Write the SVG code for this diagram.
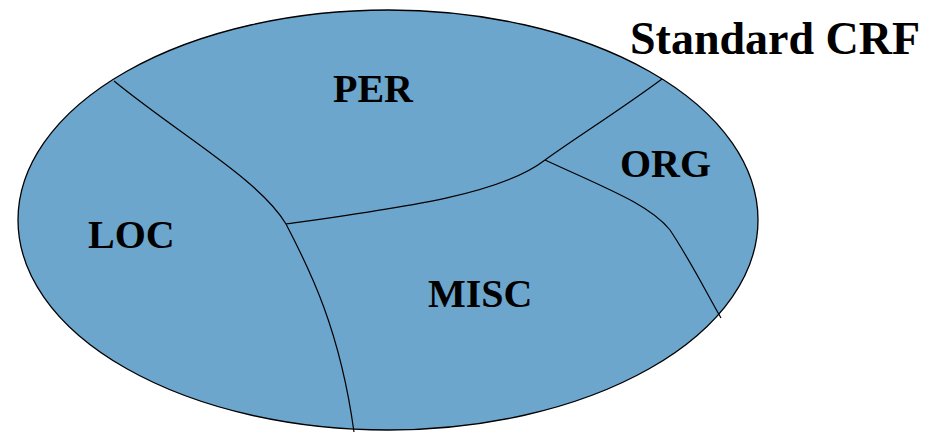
<svg xmlns="http://www.w3.org/2000/svg" width="925" height="432" viewBox="0 0 925 432">
<style>
.lbl{font-family:"Liberation Serif","Times New Roman",serif;font-weight:bold;font-size:40px;fill:#000}
.b{fill:none;stroke:#000;stroke-width:1.2}
</style>
<rect width="925" height="432" fill="#fff"/>
<g id="ellipse"><ellipse cx="388" cy="220" rx="370" ry="210" fill="#6CA6CD" stroke="#000" stroke-width="1.3"/></g>
<g id="connectors">
<path class="b" d="M114,81 C180,135 260,180 286,224"/>
<path class="b" d="M286,224 C310,270 340,330 354,432"/>
<path class="b" d="M286,224 C400,208 500,195 545,160"/>
<path class="b" d="M545,160 C580,135 620,110 662,79"/>
<path class="b" d="M545,160 C610,190 650,205 670,230 C690,260 705,290 721,318"/>
</g>
<g id="PER"><text class="lbl" x="333" y="102">PER</text></g>
<g id="ORG"><text class="lbl" x="620" y="177">ORG</text></g>
<g id="LOC"><text class="lbl" x="88" y="248">LOC</text></g>
<g id="MISC"><text class="lbl" x="428" y="307">MISC</text></g>
<g id="title"><text class="lbl" x="630" y="54" style="font-size:46px">Standard CRF</text></g>
</svg>
